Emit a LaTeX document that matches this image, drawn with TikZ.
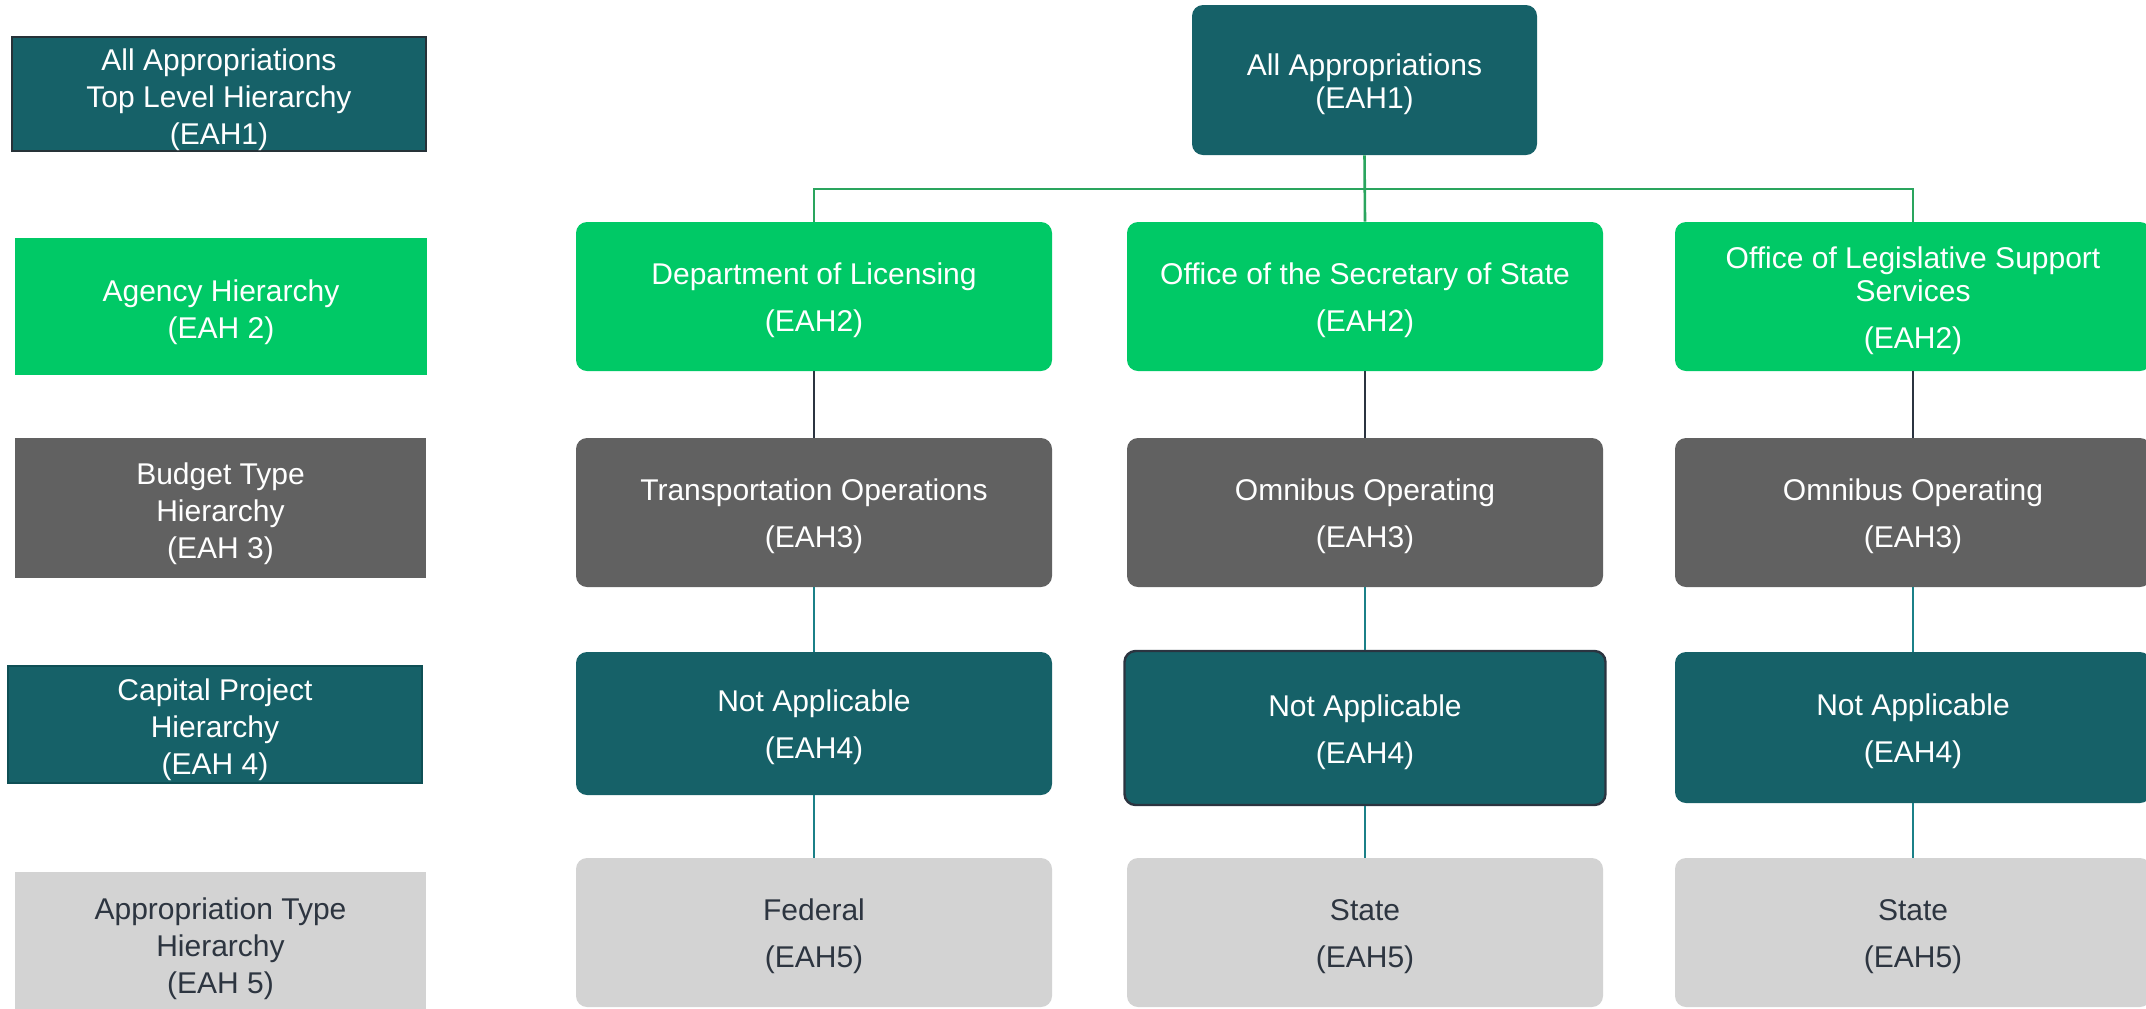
\documentclass[tikz,border=0pt]{standalone}
\usepackage{fontspec}
\setmainfont{Liberation Sans}
\definecolor{teal1}{HTML}{166168}
\definecolor{green1}{HTML}{00C966}
\definecolor{gray1}{HTML}{616161}
\definecolor{lgray}{HTML}{D3D3D3}
\definecolor{darktxt}{HTML}{2D3540}
\definecolor{lgreen}{HTML}{2AA55E}
\definecolor{ldark}{HTML}{2B3440}
\definecolor{lteal}{HTML}{1B8088}
\definecolor{bordark}{HTML}{263238}
\definecolor{borteal}{HTML}{0E4F55}
\newcommand{\topstrutmain}{\rule{0pt}{15pt}}
\newcommand{\topstrutleg}{\rule{0pt}{16.5pt}}
\tikzset{
  base/.style={inner sep=0pt, align=center, text=white, font=\fontsize{15}{16.5}\selectfont},
  rbox/.style={base, rounded corners=5.5pt, minimum width=238pt, minimum height=74.5pt},
  leg/.style={base, font=\fontsize{15}{18.5}\selectfont},
  tealbox/.style={fill=teal1},
  greenbox/.style={fill=green1},
  graybox/.style={fill=gray1},
  lightbox/.style={fill=lgray, text=darktxt},
  conn/.style={line width=1.3pt}
}
\begin{document}
\begin{tikzpicture}[x=0.5pt,y=-0.5pt]
\useasboundingbox (0,0) rectangle (2146,1008);
\begin{scope}
\clip (0,0) rectangle (2146,1008);
% legend column
\node[leg, tealbox, draw=bordark, line width=1.2pt, minimum width=207pt, minimum height=57pt] (L1) at (219,94) {\topstrutleg All Appropriations\\Top Level Hierarchy\\(EAH1)};
\node[leg, greenbox, minimum width=206pt, minimum height=68.5pt] (L2) at (221,306.5) {\topstrutleg Agency Hierarchy\\(EAH 2)};
\node[leg, graybox, minimum width=205.5pt, minimum height=70pt] (L3) at (220.5,508) {\topstrutleg Budget Type\\Hierarchy\\(EAH 3)};
\node[leg, tealbox, draw=borteal, line width=0.8pt, minimum width=207pt, minimum height=58.5pt] (L4) at (215,724.5) {\topstrutleg Capital Project\\Hierarchy\\(EAH 4)};
\node[leg, lightbox, minimum width=205.5pt, minimum height=71pt] (L5) at (220.5,943) {\topstrutleg Appropriation Type\\Hierarchy\\(EAH 5)};
% top
\node[rbox, tealbox, minimum width=172.5pt, minimum height=75pt] (top) at (1364.5,80) {\topstrutmain All Appropriations\\(EAH1)};
% row 2
\node[rbox, greenbox] (r2l) at (814,296.5) {\topstrutmain Department of Licensing\\[7pt](EAH2)};
\node[rbox, greenbox] (r2m) at (1365,296.5) {\topstrutmain Office of the Secretary of State\\[7pt](EAH2)};
\node[rbox, greenbox] (r2r) at (1913,296.5) {\topstrutmain Office of Legislative Support\\Services\\[7pt](EAH2)};
% row 3
\node[rbox, graybox] (r3l) at (814,512.5) {\topstrutmain Transportation Operations\\[7pt](EAH3)};
\node[rbox, graybox] (r3m) at (1365,512.5) {\topstrutmain Omnibus Operating\\[7pt](EAH3)};
\node[rbox, graybox] (r3r) at (1913,512.5) {\topstrutmain Omnibus Operating\\[7pt](EAH3)};
% row 4
\node[rbox, tealbox, minimum height=71.5pt] (r4l) at (814,723.5) {\topstrutmain Not Applicable\\[7pt](EAH4)};
\node[rbox, tealbox, draw=ldark, line width=1.2pt, minimum width=240.5pt, minimum height=77pt] (r4m) at (1365,728) {\topstrutmain Not Applicable\\[7pt](EAH4)};
\node[rbox, tealbox, minimum height=75.5pt] (r4r) at (1913,727.5) {\topstrutmain Not Applicable\\[7pt](EAH4)};
% row 5
\node[rbox, lightbox] (r5l) at (814,932.5) {\topstrutmain Federal\\[7pt](EAH5)};
\node[rbox, lightbox] (r5m) at (1365,932.5) {\topstrutmain State\\[7pt](EAH5)};
\node[rbox, lightbox] (r5r) at (1913,932.5) {\topstrutmain State\\[7pt](EAH5)};
% connectors
\coordinate (bus) at (1364.5,189);
\draw[conn, lgreen] (top.south) -- (r2m.north);
\draw[conn, lgreen] (r2l.north) -- (r2l.north |- bus) -- (r2r.north |- bus) -- (r2r.north);
\foreach \c in {l,m,r}{
  \draw[conn, ldark] (r2\c.south) -- (r3\c.north);
  \draw[conn, lteal] (r3\c.south) -- (r4\c.north);
  \draw[conn, lteal] (r4\c.south) -- (r5\c.north);
}
\end{scope}
\end{tikzpicture}
\end{document}
